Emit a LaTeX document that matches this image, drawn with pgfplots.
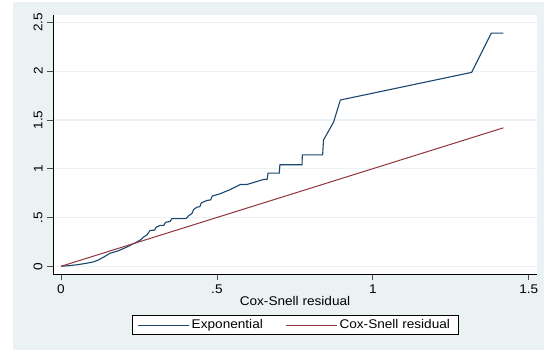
\documentclass[border=0pt]{standalone}
\usepackage{pgfplots}
\pgfplotsset{compat=1.18}
\usepackage{fontspec}
\setmainfont[FakeStretch=1.08]{Liberation Sans}
\definecolor{stbg}{RGB}{234,242,243}
\definecolor{stgrid}{RGB}{234,242,243}
\definecolor{stnavy}{RGB}{26,71,111}
\definecolor{stmaroon}{RGB}{144,53,59}
\begin{document}
\fontsize{12.6bp}{15bp}\selectfont
\begin{tikzpicture}
\fill[white] (-53bp,-76bp) rectangle (491bp,274bp);
\fill[stbg] (-40bp,-76bp) rectangle (491bp,272bp);
\begin{axis}[
  scale only axis,
  width=484bp, height=259bp,
  xmin=-0.0257, xmax=1.5266,
  ymin=-0.079, ymax=2.575,
  axis x line*=bottom, axis y line*=left,
  axis line style={black, line width=0.8bp},
  axis background/.style={fill=white},
  xtick={0,0.5,1,1.5}, xticklabels={0,.5,1,1.5},
  ytick={0,0.5,1,1.5,2,2.5}, yticklabels={0,.5,1,1.5,2,2.5},
  tick align=outside,
  major tick length=6bp,
  tick style={black!70, line width=0.8bp},
  ymajorgrids,
  grid style={stgrid, line width=1.2bp},
  yticklabel style={rotate=90, anchor=south},
  /pgf/number format/assume math mode=true,
  xlabel={Cox-Snell residual},
  xlabel style={at={(axis description cs:0.5,-0.1197)}, anchor=base},
  legend columns=2,
  legend style={at={(0.5,-0.197)}, anchor=center, draw=black, fill=white, line width=0.6bp,
    inner xsep=6bp, inner ysep=2bp,
    /tikz/every even column/.append style={column sep=21bp}},
  legend cell align=left,
  legend image code/.code={\draw[#1, line width=0.7bp] (0bp,0bp) -- (51bp,0bp);},
]
\addplot[stnavy, line width=1.1bp] coordinates {
(0,0) (0.02,0.005) (0.05,0.015) (0.08,0.03) (0.104,0.045) (0.12,0.065)
(0.14,0.10) (0.157,0.133) (0.185,0.16) (0.211,0.197) (0.243,0.249)
(0.255,0.27) (0.265,0.30) (0.275,0.32) (0.286,0.368) (0.30,0.37)
(0.305,0.40) (0.318,0.419) (0.33,0.42) (0.335,0.45) (0.35,0.46)
(0.355,0.488) (0.401,0.488) (0.41,0.52) (0.42,0.54) (0.425,0.58)
(0.436,0.606) (0.445,0.61) (0.45,0.65) (0.468,0.675) (0.48,0.68)
(0.485,0.72) (0.51,0.743) (0.542,0.785) (0.575,0.838) (0.596,0.838)
(0.65,0.89) (0.661,0.89) (0.664,0.954) (0.70,0.954) (0.702,1.04)
(0.773,1.04) (0.774,1.142) (0.839,1.142) (0.842,1.295) (0.874,1.476)
(0.896,1.704) (1.317,1.987) (1.380,2.39) (1.419,2.39)
};
\addlegendentry{Exponential}
\addplot[stmaroon, line width=1bp] coordinates {(0,0) (1.419,1.419)};
\addlegendentry{Cox-Snell residual}
\end{axis}
\end{tikzpicture}
\end{document}
